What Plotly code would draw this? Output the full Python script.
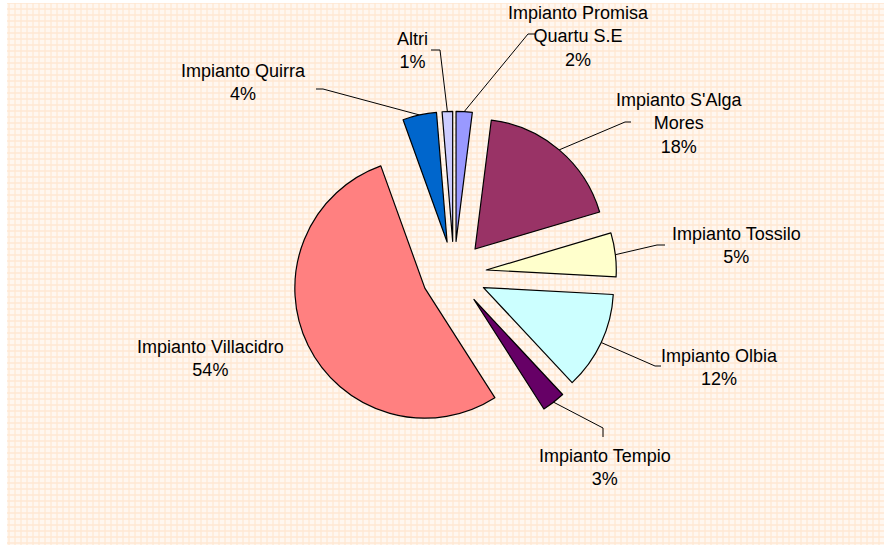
import math
import plotly.graph_objects as go

# ---------------- data ----------------
categories = ["Impianto Promisa Quartu S.E", "Impianto S'Alga Mores", "Impianto Tossilo",
              "Impianto Olbia", "Impianto Tempio", "Impianto Villacidro",
              "Impianto Quirra", "Altri"]
shares = [2.0, 18.4, 5.45, 12.2, 2.9, 53.55, 4.2, 1.3]
colors = ["#9999FF", "#993366", "#FFFFCC", "#CCFFFF", "#660066", "#FF8080", "#0066CC", "#CCCCFF"]
display_names = {"Impianto Promisa Quartu S.E": "Impianto Promisa<br>Quartu S.E",
                 "Impianto S'Alga Mores": "Impianto S'Alga<br>Mores"}

# ---------------- layout / geometry (pixels) ----------------
W, H = 884, 551
CX, CY, R, PULL = 454.0, 273.8, 130.0, 0.25
HALF = R * (1 + PULL)
label_pos = [(578, 36.5), (679, 123), (736, 245), (719, 367), (605, 467), (210, 358), (243, 82.5), (412, 50.5)]
leader_tail = [[(528, 34), (535, 34)], [(625, 122), (631, 122)], [(657, 245), (665, 245)],
               [(655, 366), (661, 366)], [(603, 428), (603, 437)], None,
               [(323, 89), (316, 89)], [(440, 50), (431, 50)]]

fig = go.Figure()

# patterned chart-area background
fig.add_trace(go.Scatter(
    x=[7, W, W, 7, 7], y=[3, 3, 545, 545, 3], mode="lines", fill="toself",
    line=dict(width=0), fillcolor="#FFF2E6",
    fillpattern=dict(shape="+", fgcolor="#FFD8B4", bgcolor="#FFF7F0", size=6, solidity=0.38),
    hoverinfo="skip", showlegend=False, xaxis="x", yaxis="y"))

total = sum(shares)
cum = 0.0
for i, s in enumerate(shares):
    theta = math.radians(360.0 * (cum + s / 2) / total)
    cum += s
    tail = leader_tail[i]
    if tail is None:
        continue
    ax = CX + HALF * math.sin(theta)
    ay = CY - HALF * math.cos(theta)
    xs = [ax] + [p[0] for p in tail]
    ys = [ay] + [p[1] for p in tail]
    fig.add_trace(go.Scatter(x=xs, y=ys, mode="lines", line=dict(color="black", width=1),
                             hoverinfo="skip", showlegend=False, xaxis="x", yaxis="y"))

fig.add_trace(go.Pie(
    labels=categories, values=shares, sort=False, direction="clockwise", rotation=0,
    pull=[PULL] * len(shares), textinfo="none",
    marker=dict(colors=colors, line=dict(color="black", width=1.2)),
    domain=dict(x=[(CX - HALF) / W, (CX + HALF) / W], y=[1 - (CY + HALF) / H, 1 - (CY - HALF) / H]),
    showlegend=False))

for i, name in enumerate(categories):
    pct = round(shares[i] / total * 100)
    txt = f"{display_names.get(name, name)}<br>{pct}%"
    lx, ly = label_pos[i]
    fig.add_annotation(x=lx, y=ly, xref="x", yref="y", text=txt, showarrow=False,
                       xanchor="center", yanchor="middle", align="center",
                       font=dict(family="Liberation Sans, Arial, sans-serif", size=18, color="black"))

fig.update_layout(
    width=W, height=H, margin=dict(l=0, r=0, t=0, b=0),
    paper_bgcolor="white", plot_bgcolor="rgba(0,0,0,0)",
    xaxis=dict(range=[0, W], visible=False, fixedrange=True, domain=[0, 1]),
    yaxis=dict(range=[H, 0], visible=False, fixedrange=True, domain=[0, 1]),
)

fig.write_html("out.html", config={"displayModeBar": False},
               post_script="document.body.style.margin='0';document.body.style.overflow='hidden';")
